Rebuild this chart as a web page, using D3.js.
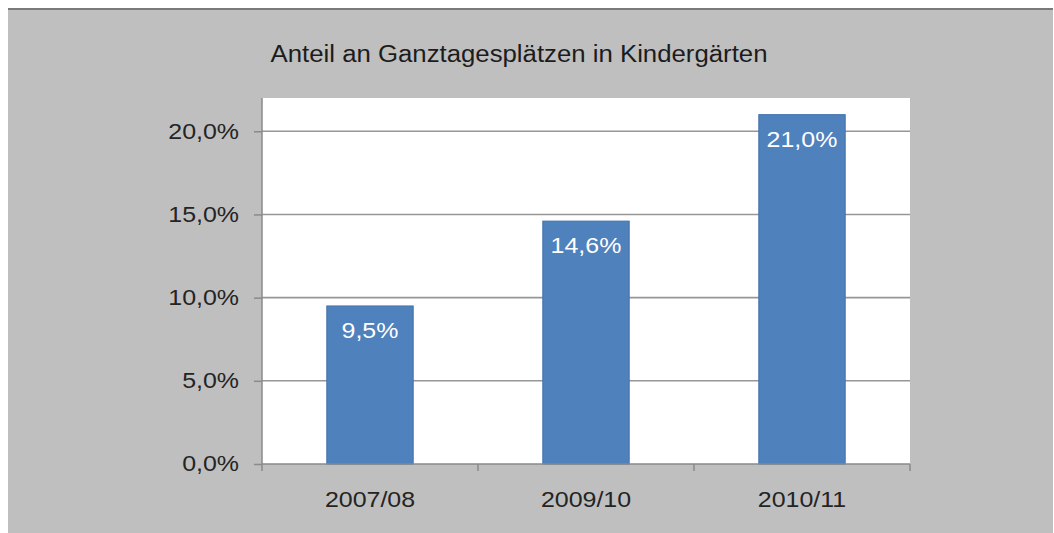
<!DOCTYPE html>
<html>
<head>
<meta charset="utf-8">
<script src="https://cdn.jsdelivr.net/npm/d3@7"></script>
<style>
  body { margin: 0; background: #fff; }
  text { font-family: "Liberation Sans", Arial, sans-serif; }
</style>
</head>
<body>
<div id="chart"></div>
<script>
// Data
const categories = ['2007/08', '2009/10', '2010/11']
const values = [9.5, 14.6, 21.0]
const yTicks = [0, 5, 10, 15, 20]
const title = 'Anteil an Ganztagesplätzen in Kindergärten'

// the source image is a bit wider than it is tall, so widen the glyphs
function stretch(sel, k) {
  sel.each(function () {
    const w = this.getComputedTextLength()
    d3.select(this)
      .attr('textLength', w * k)
      .attr('lengthAdjust', 'spacingAndGlyphs')
  })
}

function draw() {
  const dataset = categories.map((c, i) => ({ cat: c, val: values[i] }))
  const xAccessor = d => d.cat
  const yAccessor = d => d.val
  const fmt = v => v.toFixed(1).replace('.', ',') + '%'

  // Dimensions
  let dimensions = {
    width: 1054,
    height: 533,
    margins: { top: 98, bottom: 69, left: 262, right: 144 }
  }
  dimensions.ctrWidth = dimensions.width - dimensions.margins.left - dimensions.margins.right
  dimensions.ctrHeight = dimensions.height - dimensions.margins.top - dimensions.margins.bottom

  const svg = d3.select('#chart')
    .append('svg')
    .attr('width', dimensions.width)
    .attr('height', dimensions.height)

  // gray panel + dark top edge
  svg.append('rect')
    .attr('x', 8).attr('y', 8)
    .attr('width', dimensions.width - 9).attr('height', dimensions.height - 8)
    .attr('fill', '#bfbfbf')
  svg.append('line')
    .attr('x1', 8).attr('x2', dimensions.width - 1)
    .attr('y1', 9).attr('y2', 9)
    .attr('stroke', '#7a7a7a').attr('stroke-width', 2)

  svg.append('text')
    .attr('x', 519).attr('y', 62)
    .attr('text-anchor', 'middle')
    .attr('font-size', 23)
    .attr('fill', '#1c1c1c')
    .text(title)
    .call(stretch, 1.12)

  const ctr = svg.append('g')
    .attr('transform', `translate(${dimensions.margins.left}, ${dimensions.margins.top})`)

  ctr.append('rect')
    .attr('width', dimensions.ctrWidth)
    .attr('height', dimensions.ctrHeight)
    .attr('fill', '#fff')

  // Scales
  const xScale = d3.scaleBand()
    .domain(categories)
    .range([0, dimensions.ctrWidth])
    .paddingInner(0.6)
    .paddingOuter(0.3)

  const yScale = d3.scaleLinear()
    .domain([0, 22])
    .range([dimensions.ctrHeight, 0])

  // Gridlines
  ctr.selectAll('.grid')
    .data(yTicks.filter(t => t > 0))
    .join('line')
    .attr('class', 'grid')
    .attr('x1', 0).attr('x2', dimensions.ctrWidth)
    .attr('y1', d => yScale(d)).attr('y2', d => yScale(d))
    .attr('stroke', '#969696')
    .attr('stroke-width', 1.6)

  // Bars
  ctr.selectAll('.bar')
    .data(dataset)
    .join('rect')
    .attr('class', 'bar')
    .attr('x', d => xScale(xAccessor(d)))
    .attr('y', d => yScale(yAccessor(d)))
    .attr('width', xScale.bandwidth())
    .attr('height', d => dimensions.ctrHeight - yScale(yAccessor(d)))
    .attr('fill', '#4f81bd')
    .attr('stroke', '#4373ad')
    .attr('stroke-width', 1)

  ctr.selectAll('.lbl')
    .data(dataset)
    .join('text')
    .attr('class', 'lbl')
    .attr('x', d => xScale(xAccessor(d)) + xScale.bandwidth() / 2)
    .attr('y', d => yScale(yAccessor(d)) + 32)
    .attr('text-anchor', 'middle')
    .attr('font-size', 21.5)
    .attr('fill', '#fff')
    .text(d => fmt(yAccessor(d)))
    .call(stretch, 1.16)

  // Axes
  const yAxis = d3.axisLeft(yScale)
    .tickValues(yTicks)
    .tickSize(8)
    .tickPadding(15)
    .tickFormat(fmt)

  const yAxisGroup = ctr.append('g').call(yAxis)
  yAxisGroup.select('.domain').remove()
  yAxisGroup.selectAll('line').attr('stroke', '#8a8a8a').attr('stroke-width', 1.5)
  yAxisGroup.selectAll('text')
    .attr('font-size', 21.5)
    .attr('font-family', '"Liberation Sans", Arial, sans-serif')
    .attr('fill', '#242424')
    .call(stretch, 1.16)

  const xAxis = d3.axisBottom(xScale)
    .tickSize(0)
    .tickPadding(28)

  const xAxisGroup = ctr.append('g')
    .call(xAxis)
    .attr('transform', `translate(0, ${dimensions.ctrHeight})`)
  xAxisGroup.select('.domain').remove()
  xAxisGroup.selectAll('text')
    .attr('font-size', 21.5)
    .attr('font-family', '"Liberation Sans", Arial, sans-serif')
    .attr('fill', '#242424')
    .call(stretch, 1.16)

  // axis lines
  ctr.append('line')
    .attr('x1', 0).attr('x2', 0)
    .attr('y1', 0).attr('y2', dimensions.ctrHeight)
    .attr('stroke', '#8a8a8a').attr('stroke-width', 1.5)
  ctr.append('line')
    .attr('x1', 0).attr('x2', dimensions.ctrWidth)
    .attr('y1', dimensions.ctrHeight).attr('y2', dimensions.ctrHeight)
    .attr('stroke', '#8a8a8a').attr('stroke-width', 1.5)

  // category boundary ticks
  const gap = (xScale.step() - xScale.bandwidth()) / 2
  const bounds = categories.map(c => xScale(c) - gap)
    .concat([xScale(categories[categories.length - 1]) + xScale.bandwidth() + gap])
  ctr.selectAll('.xtick')
    .data(bounds)
    .join('line')
    .attr('class', 'xtick')
    .attr('x1', d => d).attr('x2', d => d)
    .attr('y1', dimensions.ctrHeight).attr('y2', dimensions.ctrHeight + 7)
    .attr('stroke', '#8a8a8a').attr('stroke-width', 1.5)
}

draw()
</script>
</body>
</html>
